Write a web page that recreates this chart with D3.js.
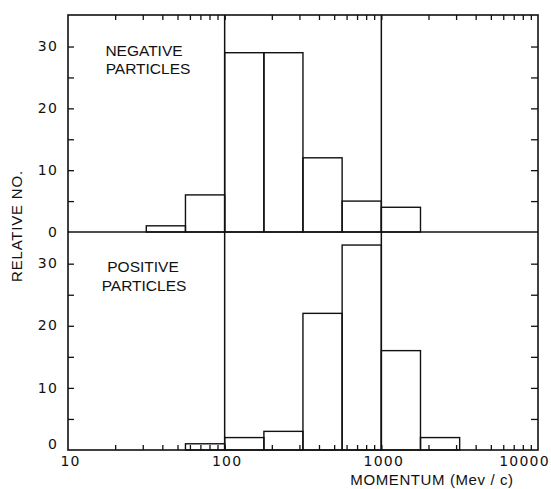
<!DOCTYPE html>
<html>
<head>
<meta charset="utf-8">
<script src="https://cdn.jsdelivr.net/npm/d3@7"></script>
<style>
  html, body { margin: 0; padding: 0; background: #fff; }
  text { font-family: "Liberation Sans", Arial, sans-serif; fill: #111; }
</style>
</head>
<body>
<svg id="chart" width="551" height="489"></svg>
<script>
// ---- data ----
const binEdges = [31.6, 56.2, 100, 178, 316, 562, 1000, 1778, 3162];
const negativeCounts = [1, 6, 29, 29, 12, 5, 4, 0];
const positiveCounts = [0, 1, 2, 3, 22, 33, 16, 2];
const xTickLabels = [10, 100, 1000, 10000];
const yTickLabels = [0, 10, 20, 30];
const yMinorTicks = [5, 10, 15, 20, 25, 30];
const dividers = [100, 1000];

// ---- layout ----
const L = 68, R = 538, T = 15, MID = 232, B = 450;
const svg = d3.select("#chart");

const x = d3.scaleLog().domain([10, 10000]).range([L, R]);
const yTop = d3.scaleLinear().domain([0, 35.1]).range([MID, T]);
const yBot = d3.scaleLinear().domain([0, 35.1]).range([B, MID]);

const ink = "#111";

function bars(counts, y) {
  const data = counts.map((c, i) => ({ x0: binEdges[i], x1: binEdges[i + 1], c }))
                     .filter(d => d.c > 0);
  svg.append("g").selectAll("rect").data(data).join("rect")
    .attr("x", d => x(d.x0))
    .attr("width", d => x(d.x1) - x(d.x0))
    .attr("y", d => y(d.c))
    .attr("height", d => y(0) - y(d.c))
    .attr("fill", "none")
    .attr("stroke", ink)
    .attr("stroke-width", 1.4);
}
bars(negativeCounts, yTop);
bars(positiveCounts, yBot);

// frame & dividers
svg.append("rect").attr("x", L).attr("y", T).attr("width", R - L).attr("height", B - T)
  .attr("fill", "none").attr("stroke", ink).attr("stroke-width", 1.6);
svg.append("line").attr("x1", L).attr("x2", R).attr("y1", MID).attr("y2", MID)
  .attr("stroke", ink).attr("stroke-width", 1.6);
svg.append("g").selectAll("line").data(dividers).join("line")
  .attr("x1", d => x(d)).attr("x2", d => x(d)).attr("y1", T).attr("y2", B)
  .attr("stroke", ink).attr("stroke-width", 1.5);

function styleAxis(g) {
  g.select(".domain").remove();
  g.selectAll("line").attr("stroke", ink).attr("stroke-width", 1.3);
  g.selectAll("text").style("font-family", "'DejaVu Sans', sans-serif")
    .style("font-size", "14px").attr("fill", ink).style("letter-spacing", "1.2px");
}

// x minor ticks (inside) top & bottom
const xt = x.ticks().filter(v => v > 10 && v < 10000);
svg.append("g").attr("transform", `translate(0,${B})`)
  .call(d3.axisTop(x).tickValues(xt).tickSize(5).tickFormat(""))
  .call(styleAxis);
svg.append("g").attr("transform", `translate(0,${T})`)
  .call(d3.axisBottom(x).tickValues(xt).tickSize(5).tickFormat(""))
  .call(styleAxis);

// x labels
svg.append("g").attr("transform", `translate(0,${B})`)
  .call(d3.axisBottom(x).tickValues(xTickLabels).tickSize(0).tickPadding(6)
    .tickFormat(d3.format("d")))
  .call(styleAxis)
  .selectAll("text").attr("dx", (d) => d === 10000 ? "-14" : "2");

// y ticks both panels, left and right
[yTop, yBot].forEach((y, idx) => {
  svg.append("g").attr("transform", `translate(${L},0)`)
    .call(d3.axisRight(y).tickValues(yMinorTicks).tickSize(6).tickFormat(""))
    .call(styleAxis);
  svg.append("g").attr("transform", `translate(${R},0)`)
    .call(d3.axisLeft(y).tickValues(yMinorTicks).tickSize(7).tickFormat(""))
    .call(styleAxis);
  const g = svg.append("g").attr("transform", `translate(${L},0)`)
    .call(d3.axisLeft(y).tickValues(yTickLabels).tickSize(0).tickPadding(10))
    .call(styleAxis);
  g.selectAll("text").attr("dy", d => (idx === 1 && d === 0) ? "-0.1em" : "0.3em");
});

// panel labels
const lab = svg.append("g").style("font-size", "15.5px");
lab.append("text").attr("x", 144).attr("y", 56).attr("text-anchor", "middle").text("NEGATIVE");
lab.append("text").attr("x", 148).attr("y", 74).attr("text-anchor", "middle").text("PARTICLES");
lab.append("text").attr("x", 143).attr("y", 272).attr("text-anchor", "middle").text("POSITIVE");
lab.append("text").attr("x", 144).attr("y", 291).attr("text-anchor", "middle").text("PARTICLES");

// axis titles
svg.append("text").attr("transform", "translate(22,226) rotate(-90)")
  .attr("text-anchor", "middle").style("font-size", "15px").style("letter-spacing", "0.8px")
  .text("RELATIVE NO.");
svg.append("text").attr("x", 432).attr("y", 485).attr("text-anchor", "middle")
  .style("font-size", "15px").style("letter-spacing", "0.6px")
  .text("MOMENTUM  (Mev / c)");
</script>
</body>
</html>
